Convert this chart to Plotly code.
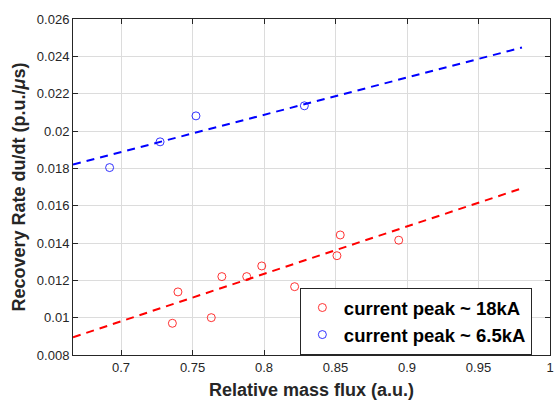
import plotly.graph_objects as go

# Data
x_18ka = [0.7359, 0.7398, 0.7631, 0.7705, 0.7879, 0.7984, 0.8214, 0.8510, 0.8533, 0.8942]
y_18ka = [0.0097, 0.01138, 0.0100, 0.0122, 0.0122, 0.01277, 0.01166, 0.01332, 0.01443, 0.01415]

x_65ka = [0.6920, 0.7273, 0.7524, 0.8282]
y_65ka = [0.01804, 0.01942, 0.02081, 0.02135]

fit_x = [0.6664, 0.9804]
fit_18ka = [0.00895, 0.01693]
fit_65ka = [0.0182, 0.02447]

x_ticks = [0.7, 0.75, 0.8, 0.85, 0.9, 0.95, 1.0]
x_ticktext = ["0.7", "0.75", "0.8", "0.85", "0.9", "0.95", "1"]
y_ticks = [0.008, 0.010, 0.012, 0.014, 0.016, 0.018, 0.020, 0.022, 0.024, 0.026]
y_ticktext = ["0.008", "0.01", "0.012", "0.014", "0.016", "0.018", "0.02", "0.022", "0.024", "0.026"]

FONT = "Liberation Sans, Arial, sans-serif"
AX = "#262626"

fig = go.Figure()
fig.add_trace(go.Scatter(x=fit_x, y=fit_18ka, mode="lines",
                         line=dict(color="#ff0000", width=2, dash="8px,6px"),
                         showlegend=False, hoverinfo="skip"))
fig.add_trace(go.Scatter(x=fit_x, y=fit_65ka, mode="lines",
                         line=dict(color="#0000ff", width=2, dash="8px,6px"),
                         showlegend=False, hoverinfo="skip"))
fig.add_trace(go.Scatter(x=x_18ka, y=y_18ka, mode="markers", name="current peak ~ 18kA",
                         marker=dict(symbol="circle-open", size=8, color="#ff0000",
                                     line=dict(width=0.8, color="#ff0000"))))
fig.add_trace(go.Scatter(x=x_65ka, y=y_65ka, mode="markers", name="current peak ~ 6.5kA",
                         marker=dict(symbol="circle-open", size=8, color="#0000ff",
                                     line=dict(width=0.8, color="#0000ff"))))

axis_common = dict(
    showline=True, linecolor=AX, linewidth=1, mirror="ticks",
    ticks="inside", ticklen=5, tickcolor=AX, tickwidth=1,
    showgrid=True, gridcolor="#dcdcdc", gridwidth=1,
    zeroline=False, automargin=False,
    tickfont=dict(family=FONT, size=13, color=AX),
)

fig.update_layout(
    width=554, height=401,
    margin=dict(l=73, r=4, t=19, b=46),
    paper_bgcolor="white", plot_bgcolor="white",
    font=dict(family=FONT, color=AX),
    xaxis=dict(range=[0.6664, 1.0], tickvals=x_ticks, ticktext=x_ticktext,
               title=dict(text="Relative mass flux (a.u.)", standoff=9,
                          font=dict(family=FONT, size=18, color=AX, weight="bold")),
               **axis_common),
    yaxis=dict(range=[0.008, 0.026], tickvals=y_ticks, ticktext=y_ticktext,
               title=dict(text="Recovery Rate du/dt (p.u./<i>μ</i>s)", standoff=6,
                          font=dict(family=FONT, size=18, color=AX, weight="bold")),
               **axis_common),
    legend=dict(x=0.962, y=0.0, xanchor="right", yanchor="bottom",
                bgcolor="white", bordercolor=AX, borderwidth=1,
                font=dict(family=FONT, size=18.5, color="black", weight="bold"),
                itemwidth=33, tracegroupgap=0),
)

fig.write_html("out.html", config={"displayModeBar": False},
               post_script="document.body.style.margin='0';document.body.style.overflow='hidden';")
